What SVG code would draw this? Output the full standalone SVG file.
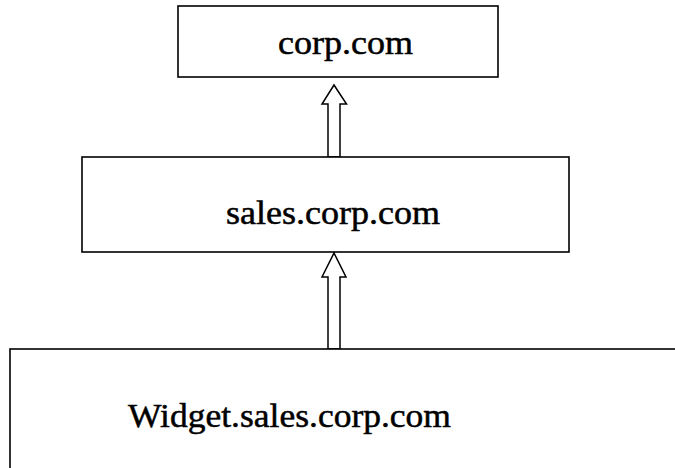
<svg xmlns="http://www.w3.org/2000/svg" width="675" height="468" viewBox="0 0 675 468">
<style>
.box{fill:#fff;stroke:#000;stroke-width:1.6}
.arr{fill:#fff;stroke:#000;stroke-width:1.5;stroke-linejoin:miter}
.lbl{font-family:"Liberation Serif","Times New Roman",serif;font-size:34px;fill:#000;stroke:#000;stroke-width:0.5}
</style>
<rect width="675" height="468" fill="#fff"/>
<g id="connectors">
<polygon class="arr" points="334,85 346.5,104 340,104 340,157 328,157 328,104 322,104"/>
<polygon class="arr" points="334,253 346,277 340,277 340,349 328,349 328,277 322,277"/>
</g>
<g id="corp">
<rect class="box" x="178" y="6" width="320" height="71"/>
<text class="lbl" x="278" y="54" textLength="135" lengthAdjust="spacingAndGlyphs">corp.com</text>
</g>
<g id="sales">
<rect class="box" x="82" y="157" width="487" height="95"/>
<text class="lbl" x="226" y="224" textLength="214" lengthAdjust="spacingAndGlyphs">sales.corp.com</text>
</g>
<g id="widget">
<rect class="box" x="10" y="349" width="700" height="140"/>
<text class="lbl" x="128" y="427" textLength="323" lengthAdjust="spacingAndGlyphs">Widget.sales.corp.com</text>
</g>
</svg>
